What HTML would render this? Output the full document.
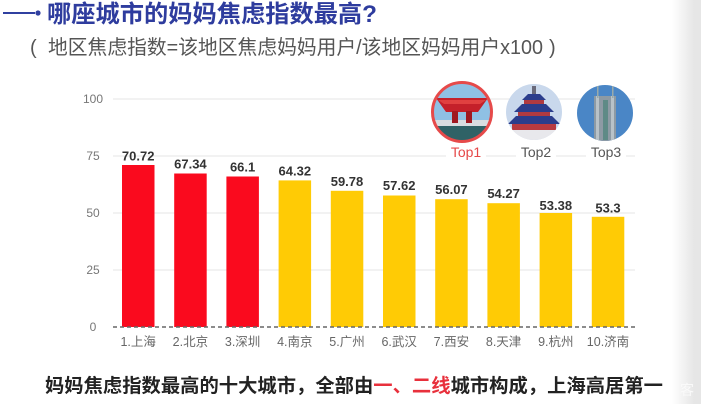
<!DOCTYPE html>
<html><head><meta charset="utf-8"><style>
html,body{margin:0;padding:0;background:#fff;}
svg{display:block;}
text{font-family:"Liberation Sans","Noto Sans CJK SC",sans-serif;}
</style></head><body>
<svg width="701" height="404" viewBox="0 0 701 404" xmlns="http://www.w3.org/2000/svg">
<defs>
<linearGradient id="rg" x1="0" x2="1" y1="0" y2="0">
<stop offset="0" stop-color="#ffffff"/><stop offset="1" stop-color="#e6e6e6"/>
</linearGradient>
<clipPath id="c1"><circle cx="462" cy="112" r="29"/></clipPath>
<clipPath id="c2"><circle cx="534" cy="112" r="28"/></clipPath>
<clipPath id="c3"><circle cx="605" cy="113" r="28"/></clipPath>
</defs>
<rect width="701" height="404" fill="#fff"/>
<rect x="672" y="0" width="22" height="404" fill="url(#rg)"/>
<rect x="694" y="0" width="7" height="404" fill="#e6e6e6"/>

<!-- title -->
<line x1="3" y1="13" x2="35" y2="13" stroke="#3040a0" stroke-width="2"/>
<circle cx="38" cy="13" r="2.6" fill="#3040a0"/>
<text x="47" y="22" font-size="24" font-weight="bold" fill="#2e3c9e" textLength="330" lengthAdjust="spacingAndGlyphs">哪座城市的妈妈焦虑指数最高?</text>
<text x="30" y="54" font-size="20" fill="#555">(</text>
<text x="48" y="54" font-size="20" fill="#555" textLength="495" lengthAdjust="spacingAndGlyphs">地区焦虑指数=该地区焦虑妈妈用户/该地区妈妈用户x100</text>
<text x="549" y="54" font-size="20" fill="#555">)</text>

<!-- grid -->
<g stroke="#e4e4e4" stroke-width="1">
<line x1="113" y1="99" x2="635" y2="99"/>
<line x1="113" y1="156" x2="635" y2="156"/>
<line x1="113" y1="213" x2="635" y2="213"/>
<line x1="113" y1="270" x2="635" y2="270"/>
</g>
<g font-size="12" fill="#777" text-anchor="middle">
<text x="93" y="103">100</text>
<text x="93" y="160">75</text>
<text x="93" y="217">50</text>
<text x="93" y="274">25</text>
<text x="93" y="331">0</text>
</g>

<!-- bars -->
<g>
<rect x="122" y="165" width="32.5" height="162" fill="#fa0a1e"/>
<rect x="174.2" y="173.5" width="32.5" height="153.5" fill="#fa0a1e"/>
<rect x="226.4" y="176.5" width="32.5" height="150.5" fill="#fa0a1e"/>
<rect x="278.6" y="180.4" width="32.5" height="146.6" fill="#ffcb05"/>
<rect x="330.8" y="190.8" width="32.5" height="136.2" fill="#ffcb05"/>
<rect x="383" y="195.5" width="32.5" height="131.5" fill="#ffcb05"/>
<rect x="435.2" y="199.2" width="32.5" height="127.8" fill="#ffcb05"/>
<rect x="487.4" y="203.2" width="32.5" height="123.8" fill="#ffcb05"/>
<rect x="539.6" y="213" width="32.5" height="114" fill="#ffcb05"/>
<rect x="591.8" y="216.8" width="32.5" height="110.2" fill="#ffcb05"/>
</g>
<line x1="113" y1="327" x2="635" y2="327" stroke="#666" stroke-width="1.5" stroke-dasharray="4,3"/>

<g font-size="13" font-weight="bold" fill="#333" text-anchor="middle">
<text x="138.2" y="160.5">70.72</text>
<text x="190.4" y="168.5">67.34</text>
<text x="242.6" y="171.5">66.1</text>
<text x="294.8" y="175.5">64.32</text>
<text x="347" y="186">59.78</text>
<text x="399.2" y="190">57.62</text>
<text x="451.4" y="194">56.07</text>
<text x="503.6" y="198">54.27</text>
<text x="555.8" y="210">53.38</text>
<text x="608" y="212.5">53.3</text>
</g>

<g font-size="12.5" fill="#666" text-anchor="middle">
<text x="138.2" y="346">1.上海</text>
<text x="190.4" y="346">2.北京</text>
<text x="242.6" y="346">3.深圳</text>
<text x="294.8" y="346">4.南京</text>
<text x="347" y="346">5.广州</text>
<text x="399.2" y="346">6.武汉</text>
<text x="451.4" y="346">7.西安</text>
<text x="503.6" y="346">8.天津</text>
<text x="555.8" y="346">9.杭州</text>
<text x="608" y="346">10.济南</text>
</g>

<!-- circle 1 -->
<g clip-path="url(#c1)">
<rect x="430" y="80" width="64" height="64" fill="#8fc0e4"/>
<rect x="430" y="120" width="64" height="8" fill="#d8dde0"/>
<rect x="430" y="126" width="64" height="20" fill="#2f6266"/>
<polygon points="436,98 488,98 478,112 446,112" fill="#c4202a"/>
<polygon points="438,100 486,100 480,104 444,104" fill="#e04040"/>
<rect x="452" y="111" width="6" height="12" fill="#a01820"/>
<rect x="466" y="111" width="6" height="12" fill="#a01820"/>
</g>
<circle cx="462" cy="112" r="29.5" fill="none" stroke="#e64a4a" stroke-width="3"/>

<!-- circle 2 -->
<g clip-path="url(#c2)">
<rect x="504" y="82" width="62" height="62" fill="#c9d8ec"/>
<rect x="532" y="86" width="4" height="8" fill="#6a6a7a"/>
<polygon points="522,100 546,100 540,94 528,94" fill="#2b3d8c"/>
<rect x="524" y="100" width="20" height="5" fill="#b03a40"/>
<polygon points="514,112 554,112 546,104 522,104" fill="#2b3d8c"/>
<rect x="518" y="112" width="32" height="5" fill="#b03a40"/>
<polygon points="508,124 560,124 552,116 516,116" fill="#2b3d8c"/>
<rect x="512" y="124" width="44" height="6" fill="#b83a40"/>
<rect x="504" y="130" width="62" height="14" fill="#e8e8ec"/>
</g>

<!-- circle 3 -->
<g clip-path="url(#c3)">
<rect x="576" y="84" width="60" height="60" fill="#4a86c6"/>
<rect x="594" y="96" width="22" height="50" fill="#8d9aa4"/>
<rect x="596" y="96" width="3" height="50" fill="#b8c2c8"/>
<rect x="611" y="96" width="3" height="50" fill="#b8c2c8"/>
<rect x="603" y="100" width="5" height="40" fill="#5e8a86"/>
<rect x="597" y="86" width="1.5" height="12" fill="#9aa"/>
<rect x="612" y="86" width="1.5" height="12" fill="#9aa"/>
</g>

<g font-size="14" text-anchor="middle">
<rect x="446" y="143" width="40" height="16" fill="#fff"/>
<rect x="516" y="143" width="40" height="16" fill="#fff"/>
<rect x="586" y="143" width="40" height="16" fill="#fff"/>
<text x="466" y="157" fill="#e64848">Top1</text>
<text x="536" y="157" fill="#555">Top2</text>
<text x="606" y="157" fill="#555">Top3</text>
</g>

<!-- bottom text -->
<text x="45" y="392" font-size="19" font-weight="bold" fill="#222" textLength="618" lengthAdjust="spacingAndGlyphs">妈妈焦虑指数最高的十大城市，全部由<tspan fill="#e8303c">一、二线</tspan>城市构成，上海高居第一</text>
<text x="680" y="395" font-size="14" fill="#fafafa">客</text>
</svg>
</body></html>
